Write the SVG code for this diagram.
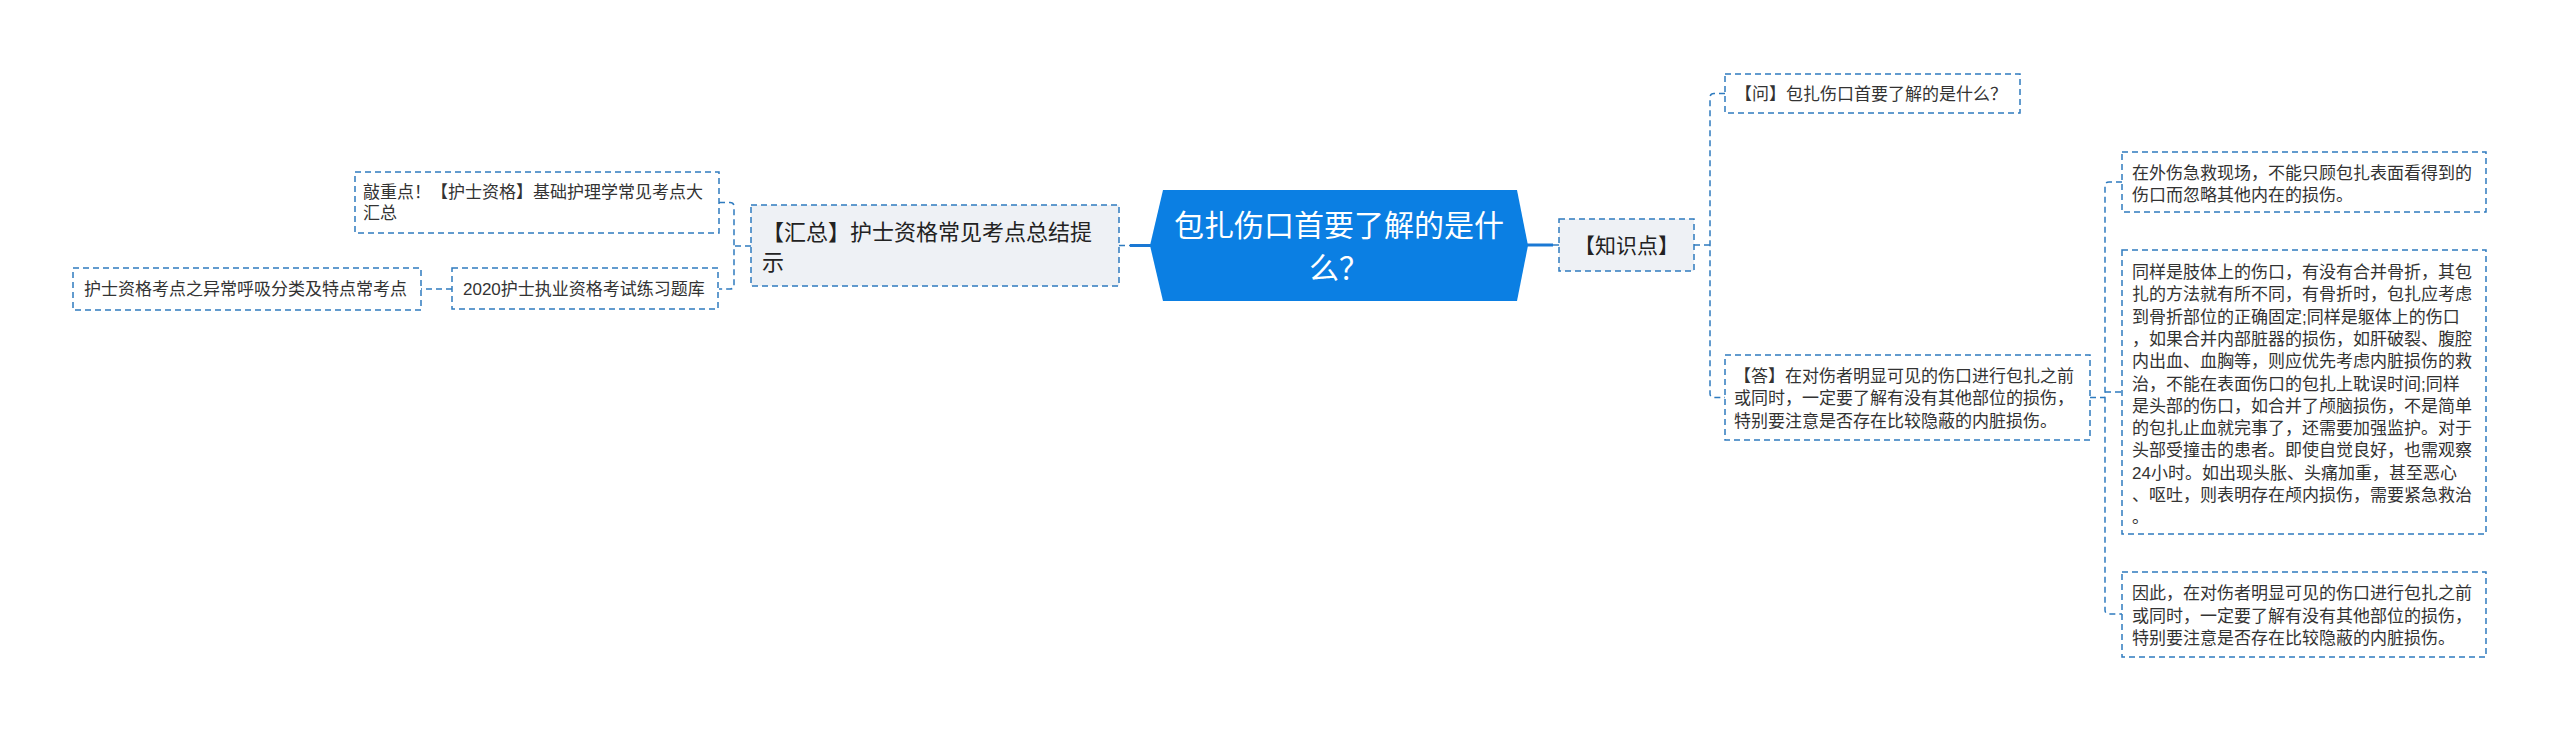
<svg xmlns="http://www.w3.org/2000/svg" width="2560" height="730" viewBox="0 0 2560 730">
<style>
.t{font-family:"Liberation Sans","Noto Sans CJK SC",sans-serif;fill:#333333;font-size:17px}
.t2{font-family:"Liberation Sans","Noto Sans CJK SC",sans-serif;fill:#222222}
.leaf{fill:#ffffff;stroke:#2f7bbf;stroke-width:1.5;stroke-dasharray:6 4}
.sub{fill:#eef1f5;stroke:#2f7bbf;stroke-width:1.5;stroke-dasharray:6 4}
.dc{fill:none;stroke:#2f7bbf;stroke-width:1.5;stroke-dasharray:6 4}
.sc{fill:none;stroke:#1a78d4;stroke-width:3}
</style>
<rect width="2560" height="730" fill="#ffffff"/>
<g id="connectors">
<path class="sc" d="M1130 245.5 H1152"/>
<path class="dc" d="M1119 245.5 H1130"/>
<path class="sc" d="M1527 245 H1553"/>
<path class="dc" d="M1553 245 H1559"/>
<path class="dc" d="M751 246 H734"/>
<path class="dc" d="M719 202.5 H730 Q734 202.5 734 206.5 V285 Q734 289 730 289 H719"/>
<path class="dc" d="M452 289 H421"/>
<path class="dc" d="M1694 245 H1710"/>
<path class="dc" d="M1725 93.5 H1714 Q1710 93.5 1710 97.5 V393.5 Q1710 397.5 1714 397.5 H1725"/>
<path class="dc" d="M2090 397.5 H2105"/>
<path class="dc" d="M2122 182 H2109 Q2105 182 2105 186 V610 Q2105 614 2109 614 H2122"/>
<path class="dc" d="M2105 392 H2122"/>
</g>
<g id="root">
<polygon points="1150,245.5 1163,190 1517,190 1528,245.5 1517,301 1163,301" fill="#0b7fe3"/>
<text class="t2" x="1339" y="235.5" font-size="30" text-anchor="middle" style="fill:#ffffff">包扎伤口首要了解的是什</text>
<text class="t2" x="1339" y="278.5" font-size="30" text-anchor="middle" style="fill:#ffffff">么？</text>
</g>
<g id="node-huizong">
<rect class="sub" x="751" y="205" width="368" height="81"/>
<text class="t2" x="762" y="240" font-size="22">【汇总】护士资格常见考点总结提</text>
<text class="t2" x="762" y="270" font-size="22">示</text>
</g>
<g id="node-qiaozhongdian">
<rect class="leaf" x="355" y="172" width="364" height="61"/>
<text class="t" x="363" y="198">敲重点！【护士资格】基础护理学常见考点大</text>
<text class="t" x="363" y="219">汇总</text>
</g>
<g id="node-tiku">
<rect class="leaf" x="452" y="268" width="266" height="41"/>
<text class="t" x="463" y="295">2020护士执业资格考试练习题库</text>
</g>
<g id="node-huxi">
<rect class="leaf" x="73" y="268" width="348" height="42"/>
<text class="t" x="84" y="295">护士资格考点之异常呼吸分类及特点常考点</text>
</g>
<g id="node-zhishidian">
<rect class="sub" x="1559" y="219" width="135" height="52"/>
<text class="t2" x="1626.5" y="252.5" font-size="21" text-anchor="middle">【知识点】</text>
</g>
<g id="node-wen">
<rect class="leaf" x="1725" y="74" width="295" height="39"/>
<text class="t" x="1735" y="99.5">【问】包扎伤口首要了解的是什么？</text>
</g>
<g id="node-da">
<rect class="leaf" x="1725" y="355" width="365" height="85"/>
<text class="t" x="1734" y="381.5">【答】在对伤者明显可见的伤口进行包扎之前</text>
<text class="t" x="1734" y="404">或同时，一定要了解有没有其他部位的损伤，</text>
<text class="t" x="1734" y="426.5">特别要注意是否存在比较隐蔽的内脏损伤。</text>
</g>
<g id="node-r1">
<rect class="leaf" x="2122" y="152" width="364" height="60"/>
<text class="t" x="2132" y="179">在外伤急救现场，不能只顾包扎表面看得到的</text>
<text class="t" x="2132" y="201">伤口而忽略其他内在的损伤。</text>
</g>
<g id="node-r2">
<rect class="leaf" x="2122" y="250" width="364" height="284"/>
<text class="t" x="2132" y="278">同样是肢体上的伤口，有没有合并骨折，其包</text>
<text class="t" x="2132" y="300.3">扎的方法就有所不同，有骨折时，包扎应考虑</text>
<text class="t" x="2132" y="322.6">到骨折部位的正确固定;同样是躯体上的伤口</text>
<text class="t" x="2132" y="344.9">，如果合并内部脏器的损伤，如肝破裂、腹腔</text>
<text class="t" x="2132" y="367.2">内出血、血胸等，则应优先考虑内脏损伤的救</text>
<text class="t" x="2132" y="389.5">治，不能在表面伤口的包扎上耽误时间;同样</text>
<text class="t" x="2132" y="411.8">是头部的伤口，如合并了颅脑损伤，不是简单</text>
<text class="t" x="2132" y="434.1">的包扎止血就完事了，还需要加强监护。对于</text>
<text class="t" x="2132" y="456.4">头部受撞击的患者。即使自觉良好，也需观察</text>
<text class="t" x="2132" y="478.7">24小时。如出现头胀、头痛加重，甚至恶心</text>
<text class="t" x="2132" y="501">、呕吐，则表明存在颅内损伤，需要紧急救治</text>
<text class="t" x="2132" y="523.3">。</text>
</g>
<g id="node-r3">
<rect class="leaf" x="2122" y="572" width="364" height="85"/>
<text class="t" x="2132" y="599">因此，在对伤者明显可见的伤口进行包扎之前</text>
<text class="t" x="2132" y="621.5">或同时，一定要了解有没有其他部位的损伤，</text>
<text class="t" x="2132" y="644">特别要注意是否存在比较隐蔽的内脏损伤。</text>
</g>
</svg>
